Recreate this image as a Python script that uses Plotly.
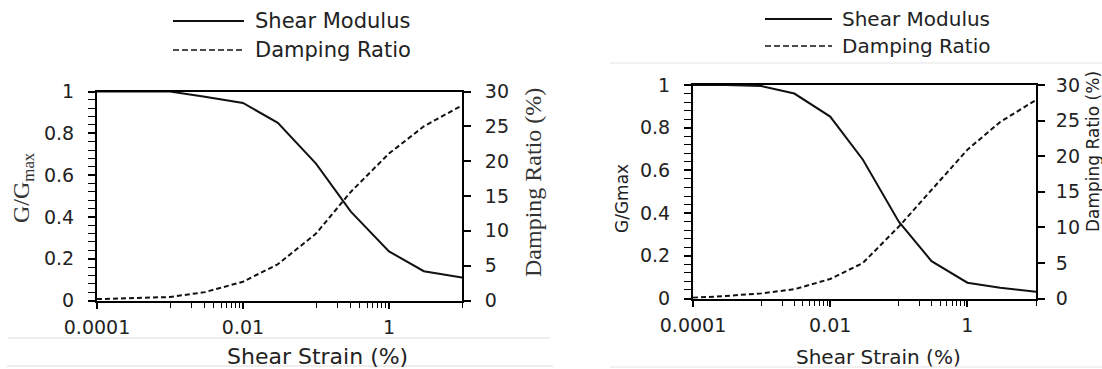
import plotly.graph_objects as go

# ---- data ----
strain = [0.0001, 0.0003, 0.001, 0.003, 0.01, 0.03, 0.1, 0.3, 1, 3, 10]

g_left = [1.0, 1.0, 1.0, 0.975, 0.945, 0.85, 0.655, 0.425, 0.235, 0.14, 0.11]
d_left = [0.2, 0.3, 0.5, 1.2, 2.7, 5.2, 9.6, 15.6, 21.1, 25.0, 28.0]

g_right = [1.0, 1.0, 0.995, 0.96, 0.852, 0.65, 0.36, 0.175, 0.074, 0.05, 0.032]
d_right = [0.1, 0.35, 0.73, 1.3, 2.74, 5.0, 10.1, 15.3, 20.9, 24.8, 27.9]

x_major = [0.0001, 0.01, 1]
x_major_text = ["0.0001", "0.01", "1"]
x_minor = [0.001, 0.002, 0.003, 0.004, 0.005, 0.006, 0.007, 0.008, 0.009,
           0.1, 0.2, 0.3, 0.4, 0.5, 0.6, 0.7, 0.8, 0.9, 10]
g_ticks = [0, 0.2, 0.4, 0.6, 0.8, 1]
g_text = ["0", "0.2", "0.4", "0.6", "0.8", "1"]
d_ticks = [0, 5, 10, 15, 20, 25, 30]

W, H = 1102, 369
def px(x):
    return x / W
def py(y):
    return 1 - y / H

TXT = "#222222"
TICKFONT = dict(family="DejaVu Sans", size=19, color=TXT)

fig = go.Figure()
fig.add_trace(go.Scatter(x=strain, y=g_left, mode="lines", xaxis="x", yaxis="y",
                         line=dict(color="#111111", width=2), showlegend=False))
fig.add_trace(go.Scatter(x=strain, y=d_left, mode="lines", xaxis="x", yaxis="y2",
                         line=dict(color="#111111", width=2, dash="5px,3px"), showlegend=False))
fig.add_trace(go.Scatter(x=strain, y=g_right, mode="lines", xaxis="x2", yaxis="y3",
                         line=dict(color="#111111", width=2), showlegend=False))
fig.add_trace(go.Scatter(x=strain, y=d_right, mode="lines", xaxis="x2", yaxis="y4",
                         line=dict(color="#111111", width=2, dash="5px,3px"), showlegend=False))

def xaxis(dom, anchor):
    return dict(domain=dom, anchor=anchor, type="log", range=[-4, 1],
                automargin=False,
                showline=True, linecolor="black", linewidth=2, mirror=True,
                showgrid=False, zeroline=False,
                ticks="outside", ticklen=6, tickwidth=1.5, tickcolor="black",
                tickmode="array", tickvals=x_major, ticktext=x_major_text,
                minor=dict(tickmode="array", tickvals=x_minor, ticks="outside",
                           ticklen=5, tickwidth=1.2, tickcolor="black", showgrid=False),
                tickfont=TICKFONT, ticklabelstandoff=3)

def yleft(dom, anchor):
    return dict(domain=dom, anchor=anchor, range=[0, 1],
                automargin=False,
                showline=True, linecolor="black", linewidth=2,
                showgrid=False, zeroline=False,
                ticks="outside", ticklen=7, tickwidth=1.5, tickcolor="black",
                tickmode="array", tickvals=g_ticks, ticktext=g_text,
                minor=dict(tickmode="linear", tick0=0, dtick=0.04, ticks="outside",
                           ticklen=7, tickwidth=1.2, tickcolor="black", showgrid=False),
                tickfont=TICKFONT, ticklabelstandoff=10)

def yright(anchor, overlay, standoff):
    return dict(overlaying=overlay, anchor=anchor, side="right", range=[0, 30],
                automargin=False,
                showline=True, linecolor="black", linewidth=2,
                showgrid=False, zeroline=False,
                ticks="outside", ticklen=7, tickwidth=1.5, tickcolor="black",
                tickmode="array", tickvals=d_ticks,
                tickfont=TICKFONT, ticklabelstandoff=standoff)

L = [px(97), px(462)]
R = [px(693), px(1036)]
LY = [py(300.5), py(91.5)]
RY = [py(298.5), py(85)]

annotations = []
def ann(text, x, y, size, family, angle=0, xanchor="center", color=TXT):
    annotations.append(dict(text=text, x=px(x), y=py(y), xref="paper", yref="paper",
                            showarrow=False, textangle=angle, xanchor=xanchor,
                            yanchor="middle",
                            font=dict(family=family, size=size, color=color)))

# legends (text)
ann("Shear Modulus", 253, 21, 21, "DejaVu Sans", xanchor="left")
ann("Damping Ratio", 253, 50, 21, "DejaVu Sans", xanchor="left")
ann("Shear Modulus", 840, 19, 20, "DejaVu Sans", xanchor="left")
ann("Damping Ratio", 840, 46, 20, "DejaVu Sans", xanchor="left")

# axis titles
ann("G/G<sub>max</sub>", 23, 188, 24, "Liberation Serif", angle=-90, color="#333333")
ann("Damping Ratio (%)", 533, 183, 24, "Liberation Serif", angle=-90, color="#333333")
ann("Shear Strain (%)", 317, 356, 22, "DejaVu Sans")
ann("G/Gmax", 622, 198, 17, "DejaVu Sans", angle=-90)
ann("Damping Ratio (%)", 1093, 152, 17, "DejaVu Sans", angle=-90)
ann("Shear Strain (%)", 878, 357, 20, "DejaVu Sans")

shapes = []
def seg(x0, y0, x1, y1, color, width, dash=None):
    ln = dict(color=color, width=width)
    if dash:
        ln["dash"] = dash
    shapes.append(dict(type="line", xref="paper", yref="paper",
                       x0=px(x0), y0=py(y0), x1=px(x1), y1=py(y1), line=ln))

# legend samples
seg(173, 21, 244, 21, "#111111", 2)
seg(173, 50, 245, 50, "#111111", 1.6, "6px,3px")
seg(765, 19, 832, 19, "#111111", 2)
seg(765, 46, 832, 46, "#111111", 1.6, "6px,3px")

# faint separator lines from the source page
seg(8, 338, 550, 338, "#e9e9e9", 1.5)
seg(7, 366, 553, 366, "#e9e9e9", 1.5)
seg(610, 63, 1102, 63, "#ececec", 1.5)
seg(610, 367, 1102, 367, "#ececec", 1.5)

fig.update_layout(
    template="none",
    width=W, height=H,
    margin=dict(l=0, r=0, t=0, b=0, autoexpand=False),
    paper_bgcolor="white", plot_bgcolor="white",
    showlegend=False,
    xaxis=xaxis(L, "y"),
    yaxis=yleft(LY, "x"),
    yaxis2=yright("x", "y", 10),
    xaxis2=xaxis(R, "y3"),
    yaxis3=yleft(RY, "x2"),
    yaxis4=yright("x2", "y3", 7),
    annotations=annotations,
    shapes=shapes,
)

fig.write_html("out.html")
